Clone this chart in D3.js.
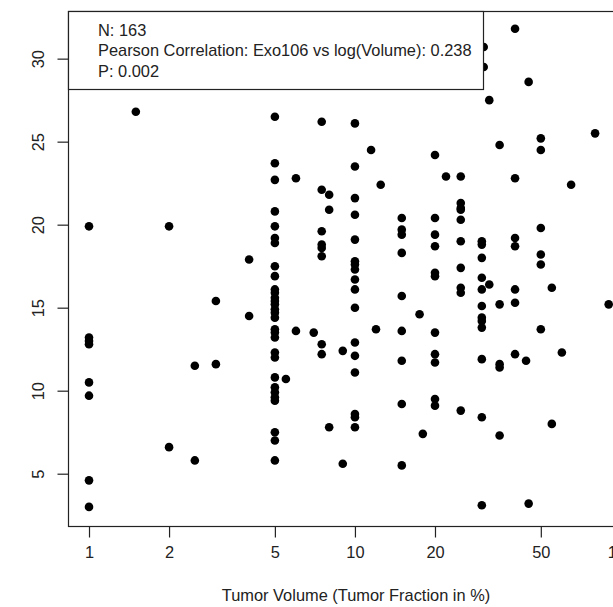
<!DOCTYPE html>
<html>
<head>
<meta charset="utf-8">
<script src="https://cdn.jsdelivr.net/npm/d3@7"></script>
<style>
  body { margin: 0; background: #fff; }
  text { font-family: "Liberation Sans", Arial, sans-serif; fill: #222; }
</style>
</head>
<body>
<svg id="chart"></svg>
<script>
// tumor fraction (%) and the Exo106 values measured at each fraction
const fractions = [1, 1.5, 2, 2.5, 3, 4, 5, 5.5, 6, 7, 7.5, 8, 9, 10, 11.5, 12, 12.5, 15, 17.5, 18,
    20, 22, 25, 30, 30.5, 32, 35, 40, 44, 45, 50, 55, 60, 65, 80, 90];
const exo106 = [
    [19.9, 13.2, 13.0, 12.8, 10.5, 9.7, 4.6, 3.0],
    [26.8],
    [19.9, 6.6],
    [11.5, 5.8],
    [15.4, 11.6],
    [17.9, 14.5],
    [26.5, 23.7, 22.7, 20.8, 19.9, 19.2, 18.9, 17.5, 16.9, 16.1, 15.9, 15.6, 15.4, 15.2, 14.9,
     14.7, 14.4, 13.7, 13.5, 13.2, 12.3, 12.0, 10.8, 10.2, 9.9, 9.6, 9.4, 7.5, 7.0, 5.8],
    [10.7],
    [22.8, 13.6],
    [13.5],
    [26.2, 22.1, 19.6, 18.8, 18.6, 18.1, 12.8, 12.2],
    [21.8, 20.9, 7.8],
    [12.4, 5.6],
    [26.1, 23.5, 21.6, 20.6, 19.1, 17.8, 17.6, 17.3, 16.7, 16.1, 15.0, 12.9, 12.1, 11.1, 8.6, 8.4, 7.8],
    [24.5],
    [13.7],
    [22.4],
    [20.4, 19.7, 19.4, 18.3, 15.7, 13.6, 11.8, 9.2, 5.5],
    [14.6],
    [7.4],
    [24.2, 20.4, 19.4, 18.7, 17.1, 16.9, 13.5, 12.2, 11.7, 9.5, 9.1],
    [22.9],
    [22.9, 21.3, 21.0, 20.9, 20.3, 19.0, 17.4, 16.2, 15.9, 8.8],
    [19.0, 18.8, 18.0, 16.8, 16.1, 15.1, 14.4, 14.2, 13.8, 11.9, 8.4, 3.1],
    [30.7, 29.5],
    [27.5, 16.4],
    [24.8, 15.2, 11.6, 11.4, 7.3],
    [31.8, 22.8, 19.2, 18.7, 16.1, 15.3, 12.2],
    [11.8],
    [28.6, 3.2],
    [25.2, 24.5, 19.8, 18.2, 17.6, 13.7],
    [16.2, 8.0],
    [12.3],
    [22.4],
    [25.5],
    [15.2]
];
const xTicks = [1, 2, 5, 10, 20, 50, 100];
const yTicks = [5, 10, 15, 20, 25, 30];
const legendLines = ["N: 163", "Pearson Correlation: Exo106 vs log(Volume): 0.238", "P: 0.002"];
const xTitle = "Tumor Volume (Tumor Fraction in %)";

const points = fractions.flatMap((f, i) => exo106[i].map(v => ({ x: f, y: v })));

const width = 613, height = 607,
    margin = { top: 11, right: -31, bottom: 81, left: 68 };

const svg = d3.select('#chart')
    .attr("width", width)
    .attr("height", height)

const x = d3.scaleLog()
    .domain([Math.pow(10, -0.079), Math.pow(10, 2.087)])
    .range([margin.left, width - margin.right])

const y = d3.scaleLinear()
    .domain([1.85, 32.87])
    .range([height - margin.bottom, margin.top])

// points
svg.append("g")
    .selectAll("circle")
    .data(points)
    .enter()
    .append("circle")
    .attr("cx", d => x(d.x))
    .attr("cy", d => y(d.y))
    .attr("r", 4.3)
    .style("fill", "#000")

// plot box
svg.append("rect")
    .attr("x", margin.left + 0.5)
    .attr("y", margin.top + 0.5)
    .attr("width", x.range()[1] - x.range()[0])
    .attr("height", y.range()[0] - y.range()[1])
    .style("fill", "none")
    .style("stroke", "#222")
    .style("stroke-width", 1.2)

// x axis (ticks below the box)
const xAxis = d3.axisBottom(x)
    .tickValues(xTicks)
    .tickFormat(d3.format("d"))
    .tickSize(11)
    .tickSizeOuter(0)
    .tickPadding(9);

const gx = svg.append("g")
    .attr("transform", "translate(0," + (y.range()[0] + 0.5) + ")")
    .call(xAxis)
gx.select(".domain").remove()
gx.selectAll("line").style("stroke", "#222").style("stroke-width", 1.2)
gx.selectAll("text")
    .style("font-size", "16.4px")
    .style("font-family", '"Liberation Sans", Arial, sans-serif')
    .style("fill", "#222")

// y axis, labels turned like in R
const yAxis = d3.axisLeft(y)
    .tickValues(yTicks)
    .tickSize(11)
    .tickSizeOuter(0)
    .tickFormat(d3.format("d"));

const gy = svg.append("g")
    .attr("transform", "translate(" + (margin.left + 0.5) + ",0)")
    .call(yAxis)
gy.select(".domain").remove()
gy.selectAll("line").style("stroke", "#222").style("stroke-width", 1.2)
gy.selectAll("text")
    .attr("x", null)
    .attr("dy", null)
    .attr("transform", "translate(-25,0) rotate(-90)")
    .attr("text-anchor", "middle")
    .style("font-size", "16.4px")
    .style("font-family", '"Liberation Sans", Arial, sans-serif')
    .style("fill", "#222")

// x title
svg.append("text")
    .attr("x", 356)
    .attr("y", 601)
    .attr("text-anchor", "middle")
    .style("font-size", "16.4px")
    .text(xTitle)

// legend box on top of the points
const legend = svg.append("g")
legend.append("rect")
    .attr("x", margin.left + 0.5)
    .attr("y", margin.top + 0.5)
    .attr("width", 415)
    .attr("height", 78)
    .style("fill", "#fff")
    .style("stroke", "#222")
    .style("stroke-width", 1.2)

legend.selectAll(".leg")
    .data(legendLines)
    .enter()
    .append("text")
    .attr("class", "leg")
    .attr("x", 98)
    .attr("y", (d, i) => 36 + i * 20.3)
    .style("font-size", "16.4px")
    .text(d => d)
</script>
</body>
</html>
